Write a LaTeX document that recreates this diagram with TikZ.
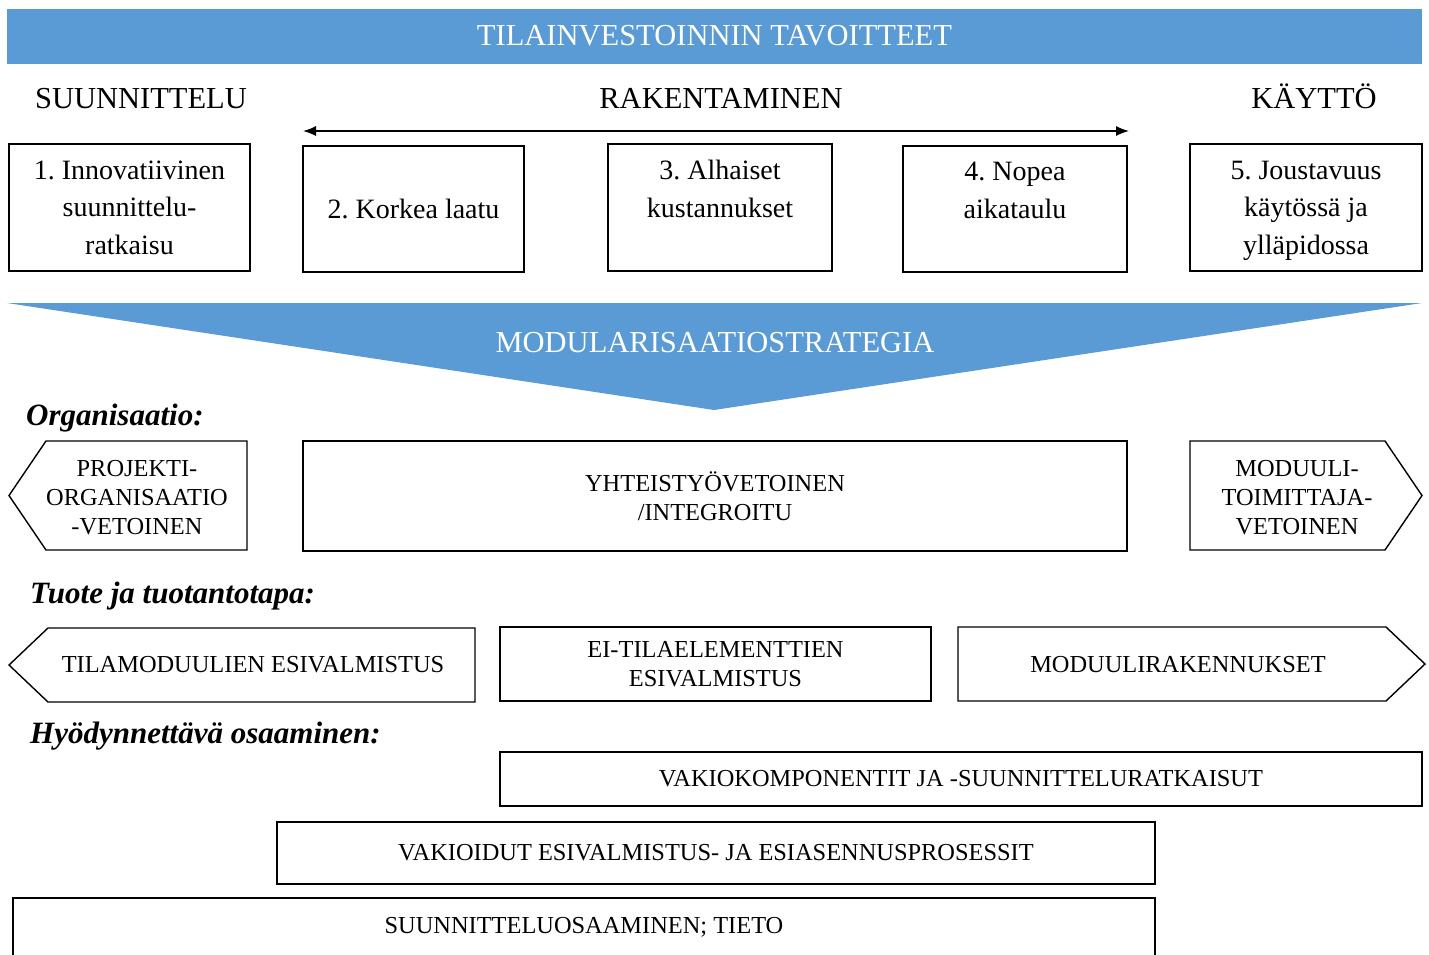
\documentclass[tikz,border=0pt]{standalone}
\usepackage{fontspec}
\setmainfont{Liberation Serif}
\usetikzlibrary{arrows.meta}

\definecolor{stratblue}{RGB}{91,155,213}
\newcommand{\headsize}{\fontsize{30.5}{37.5}\selectfont}
\newcommand{\goalsize}{\fontsize{28}{37.5}\selectfont\frenchspacing}
\newcommand{\itemsize}{\fontsize{24.4}{29}\selectfont}
\newcommand{\labelsize}{\fontsize{31}{36}\selectfont\bfseries\itshape}

\begin{document}
\begin{tikzpicture}[x=1pt,y=-1pt,
    banner/.style={fill=stratblue,text=white,inner sep=0pt,font=\headsize},
    phase/.style={anchor=base,inner sep=0pt,font=\headsize},
    goalbox/.style={draw,line width=1.4pt,align=center,inner sep=0pt,font=\goalsize},
    itembox/.style={draw,line width=1.4pt,align=center,inner sep=0pt,font=\itemsize},
    itemtext/.style={align=center,inner sep=0pt,font=\itemsize},
    arrowbox/.style={draw,line width=1.4pt},
    sectlabel/.style={anchor=base west,inner sep=0pt,font=\labelsize}]
  \useasboundingbox (0,0) rectangle (1429,954);

  % goals
  \node[banner,minimum width=1415pt,minimum height=55pt](top) at (714.5,36) {TILAINVESTOINNIN TAVOITTEET};
  \node[phase](suun) at (141,108)  {SUUNNITTELU};
  \node[phase](rak)  at (721,108)  {RAKENTAMINEN};
  \node[phase](kay)  at (1314,108) {KÄYTTÖ};
  \coordinate (rakL) at (303,131);
  \coordinate (rakR) at (1129,131);
  \draw[{Latex[length=13pt,width=10pt]}-{Latex[length=13pt,width=10pt]},line width=1.4pt] (rakL) -- (rakR);

  \node[goalbox,minimum width=241pt,minimum height=127pt](g1) at (129.5,207.5) {1. Innovatiivinen\\suunnittelu-\\ratkaisu};
  \node[goalbox,minimum width=221pt,minimum height=126pt](g2) at (413.5,209)   {2. Korkea laatu};
  \node[goalbox,minimum width=224pt,minimum height=127pt](g3) at (720,207.5)   {3. Alhaiset\\kustannukset\\\phantom{x}};
  \node[goalbox,minimum width=224pt,minimum height=126pt](g4) at (1015,209)    {4. Nopea\\aikataulu\\\phantom{x}};
  \node[goalbox,minimum width=232pt,minimum height=127pt](g5) at (1306,207.5)  {5. Joustavuus\\käytössä ja\\\smash{ylläpidossa}};

  % strategy
  \fill[stratblue] (7,303) -- (1422,303) -- (714,410) -- cycle;
  \node[banner,fill=none](strat) at (715,343) {MODULARISAATIOSTRATEGIA};

  % organisation
  \node[sectlabel](orglab) at (26,425) {Organisaatio:};
  \draw[arrowbox] (46,441) -- (247,441) -- (247,550) -- (46,550) -- (9,495.5) -- cycle;
  \node[itemtext](org1) at (137,497.5) {PROJEKTI-\\ORGANISAATIO\\-VETOINEN};
  \node[itembox,minimum width=824pt,minimum height=110pt](org2) at (715,496) {YHTEISTYÖVETOINEN\\/INTEGROITU};
  \draw[arrowbox] (1190,441) -- (1385,441) -- (1422,495.5) -- (1385,550) -- (1190,550) -- cycle;
  \node[itemtext](org3) at (1297,497.5) {MODUULI-\\TOIMITTAJA-\\VETOINEN};

  % product
  \node[sectlabel](prodlab) at (30,603) {Tuote ja tuotantotapa:};
  \draw[arrowbox] (48,628) -- (475,628) -- (475,702) -- (48,702) -- (9,665) -- cycle;
  \node[itemtext](prod1) at (253,665) {TILAMODUULIEN ESIVALMISTUS};
  \node[itembox,minimum width=431pt,minimum height=74pt](prod2) at (715.5,664) {EI-TILAELEMENTTIEN\\ESIVALMISTUS};
  \draw[arrowbox] (958,627) -- (1386,627) -- (1425,664) -- (1386,701) -- (958,701) -- cycle;
  \node[itemtext](prod3) at (1178,665) {MODUULIRAKENNUKSET};

  % knowledge
  \node[sectlabel](knowlab) at (30,743) {Hyödynnettävä osaaminen:};
  \node[itembox,minimum width=922pt,minimum height=54pt](know1) at (961,779) {VAKIOKOMPONENTIT JA -SUUNNITTELURATKAISUT};
  \node[itembox,minimum width=878pt,minimum height=62pt](know2) at (716,853) {VAKIOIDUT ESIVALMISTUS- JA ESIASENNUSPROSESSIT};
  \node[itembox,minimum width=1142pt,minimum height=58pt](know3) at (584,927) {SUUNNITTELUOSAAMINEN; TIETO};
\end{tikzpicture}
\end{document}
